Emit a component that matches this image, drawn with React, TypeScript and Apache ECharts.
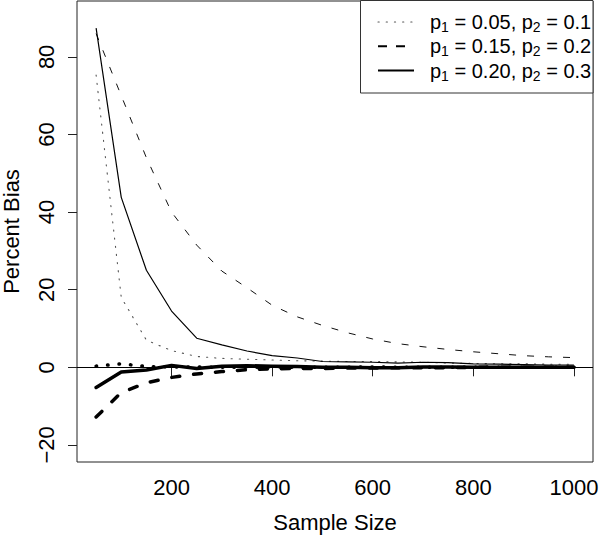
import React, { useEffect, useRef } from "react";
import * as echarts from "echarts";

// Sample sizes (x)
const sampleSizes = [50, 100, 150, 200, 250, 300, 350, 400, 450, 500, 550, 600, 650, 700, 750, 800, 850, 900, 950, 1000];

// Upper (thin) curves
const thinP005 = [75.3, 18, 7, 4.3, 2.8, 2.3, 2.1, 1.9, 1.7, 1.6, 1.5, 1.5, 1.4, 1.3, 1.1, 1.0, 0.9, 0.9, 0.8, 0.8];
const thinP015 = [86, 70, 54, 40, 31.5, 24.8, 20.5, 16, 13, 10.8, 8.9, 7.3, 6.1, 5.3, 4.6, 4.0, 3.5, 3.0, 2.7, 2.5];
const thinP020 = [87.4, 43.8, 25, 14.5, 7.5, 5.8, 4.2, 3.0, 2.4, 1.5, 1.4, 1.3, 1.1, 1.3, 1.2, 0.9, 0.8, 0.7, 0.6, 0.6];

// Lower (thick) curves
const thickP005 = [0.3, 0.9, 0.2, 0.1, 0.1, 0, 0, 0.1, 0, 0, 0, 0.1, 0, 0, 0, 0, 0, 0, 0, 0];
const thickP015 = [-12.8, -6.5, -4, -2.6, -1.7, -1.1, -0.6, -0.4, -0.3, -0.3, -0.2, -0.2, -0.1, -0.1, -0.1, 0, 0, 0, 0, 0];
const thickP020 = [-5.2, -1.2, -0.7, 0.5, -0.3, 0.3, 0.4, 0.3, 0.2, 0, 0, -0.1, -0.1, 0.1, 0.1, 0, 0, 0, 0, 0];

const xTicks = [200, 400, 600, 800, 1000];
const yTicks = [-20, 0, 20, 40, 60, 80];

const legendLabels = [
  ["0.05", "0.1"],
  ["0.15", "0.2"],
  ["0.20", "0.3"],
];

const FONT = "'Liberation Sans', Arial, Helvetica, sans-serif";

function pairs(arr: number[]) {
  return sampleSizes.map((n, i) => [n, arr[i]]);
}

const fmt = (v: number) => String(v).replace("-", "\u2212");

export default function App() {
  const ref = useRef<HTMLDivElement>(null);

  useEffect(() => {
    if (!ref.current) return;
    const chart = echarts.init(ref.current, null, { renderer: "svg" });

    const thinDotted = { color: "#555", width: 1.1, type: [1.2, 7], cap: "round" };
    const thinDashed = { color: "#111", width: 1, type: [7, 11], cap: "butt" };
    const thinSolid = { color: "#000", width: 1.2, type: "solid" };
    const thickDotted = { color: "#000", width: 3.5, type: [0.5, 11], cap: "round" };
    const thickDashed = { color: "#000", width: 3.5, type: [8, 14], cap: "round" };
    const thickSolid = { color: "#000", width: 3.5, type: "solid", cap: "round", join: "round" };

    const mk = (name: string, arr: number[], ls: any, extra: any = {}) => ({
      type: "line",
      name,
      data: pairs(arr),
      symbol: "none",
      showSymbol: false,
      silent: true,
      lineStyle: ls,
      z: 3,
      ...extra,
    });

    const legendRows = legendLabels.map((lab, i) => {
      const y = 22 + i * 24.3;
      const dash =
        i === 0 ? [1.2, 7] : i === 1 ? [9, 9] : null;
      return [
        {
          type: "line",
          z: 101,
          shape: { x1: 378, y1: y, x2: 414, y2: y },
          style: {
            stroke: i === 0 ? "#555" : "#000",
            lineWidth: i === 0 ? 1.1 : 2,
            lineDash: dash,
            lineCap: i === 0 ? "round" : "butt",
          },
        },
        {
          type: "text",
          z: 101,
          x: 430,
          y: y,
          style: {
            text: `{a|p}{s|1}{a| = ${lab[0]}, p}{s|2}{a| = ${lab[1]}}`,
            align: "left",
            verticalAlign: "middle",
            fill: "#000",
            rich: {
              a: { fontSize: 20, fontFamily: FONT, fill: "#000", lineHeight: 24 },
              s: { fontSize: 14, fontFamily: FONT, fill: "#000", lineHeight: 24, padding: [10, 0, 0, 0] },
            },
          },
        },
      ];
    }).flat();

    chart.setOption({
      animation: false,
      grid: {
        left: 77,
        right: 7,
        top: 1,
        bottom: 74,
        show: true,
        borderColor: "#222",
        borderWidth: 1,
        backgroundColor: "transparent",
        containLabel: false,
        outerBoundsMode: "none",
      },
      xAxis: {
        type: "value",
        min: 12,
        max: 1038,
        axisLine: { show: false },
        splitLine: { show: false },
        axisTick: {
          show: true,
          length: 9,
          customValues: xTicks,
          lineStyle: { color: "#222", width: 1 },
        },
        axisLabel: {
          customValues: xTicks,
          formatter: fmt,
          margin: 14,
          fontSize: 22,
          color: "#000",
          fontFamily: FONT,
        },
        name: "Sample Size",
        nameLocation: "middle",
        nameGap: 49,
        nameTextStyle: { fontSize: 22, color: "#000", fontFamily: FONT },
      },
      yAxis: {
        type: "value",
        min: -24.4,
        max: 94.4,
        axisLine: { show: false },
        splitLine: { show: false },
        axisTick: {
          show: true,
          length: 9,
          customValues: yTicks,
          lineStyle: { color: "#222", width: 1 },
        },
        axisLabel: {
          customValues: yTicks,
          formatter: fmt,
          rotate: 90,
          margin: 20,
          fontSize: 22,
          color: "#000",
          fontFamily: FONT,
        },
        name: "Percent Bias",
        nameLocation: "middle",
        nameGap: 55,
        nameRotate: 90,
        nameTextStyle: { fontSize: 22, color: "#000", fontFamily: FONT },
      },
      series: [
        mk("p1 = 0.05, p2 = 0.1", thinP005, thinDotted, {
          markLine: {
            silent: true,
            symbol: "none",
            label: { show: false },
            lineStyle: { color: "#000", width: 1, type: "solid" },
            data: [{ yAxis: 0 }],
            z: 2,
          },
        }),
        mk("p1 = 0.15, p2 = 0.2", thinP015, thinDashed),
        mk("p1 = 0.20, p2 = 0.3", thinP020, thinSolid),
        mk("p1 = 0.05, p2 = 0.1 (lower)", thickP005, thickDotted),
        mk("p1 = 0.15, p2 = 0.2 (lower)", thickP015, thickDashed),
        mk("p1 = 0.20, p2 = 0.3 (lower)", thickP020, thickSolid),
      ],
      graphic: [
        {
          type: "rect",
          z: 100,
          shape: { x: 360.5, y: 0.5, width: 232.5, height: 92.5 },
          style: { fill: "#fff", stroke: "#333", lineWidth: 1 },
        },
        ...legendRows,
      ],
    });

    return () => chart.dispose();
  }, []);

  return (
    <div
      ref={ref}
      style={{ position: "absolute", left: 0, top: 0, width: 600, height: 536, background: "#fff" }}
    />
  );
}
